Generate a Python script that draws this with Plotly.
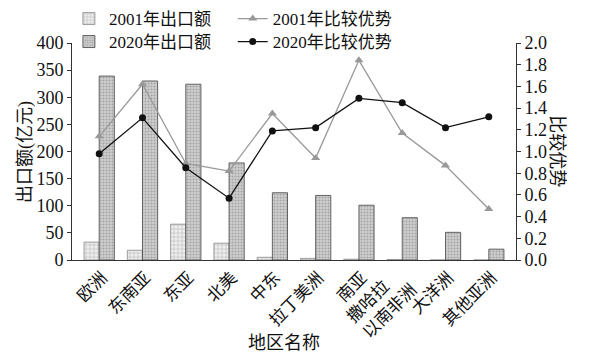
import plotly.graph_objects as go

categories = ["欧洲", "东南亚", "东亚", "北美", "中东", "拉丁美洲", "南亚", "撒哈拉<br>以南非洲", "大洋洲", "其他亚洲"]
export_2001 = [33, 18, 66, 31, 5, 3, 1.5, 1, 0, 0]
export_2020 = [339, 330, 324, 179, 124, 119, 101, 78, 51, 20]
adv_2001 = [1.14, 1.62, 0.89, 0.82, 1.35, 0.94, 1.84, 1.17, 0.87, 0.47]
adv_2020 = [0.98, 1.31, 0.85, 0.57, 1.19, 1.22, 1.49, 1.45, 1.22, 1.32]

FONT = "Liberation Serif, Noto Sans CJK SC"

# two-line category label drawn left-aligned (as in reference); others as axis tick labels
multi = [c for c in categories if "<br>" in c]
ticktext = ["" if "<br>" in c else c for c in categories]

fig = go.Figure()
fig.add_trace(go.Bar(
    x=categories, y=export_2001, name="2001年出口额",
    marker=dict(color="#eeeeee", line=dict(color="#888", width=0.8),
                pattern=dict(shape="+", fgcolor="#999", bgcolor="#eeeeee", size=4, solidity=0.35)),
    legend="legend",
))
fig.add_trace(go.Bar(
    x=categories, y=export_2020, name="2020年出口额",
    marker=dict(color="#c4c4c4", line=dict(color="#444", width=0.8),
                pattern=dict(shape=".", fgcolor="#777", bgcolor="#d0d0d0", size=3, solidity=0.4)),
    legend="legend2",
))
fig.add_trace(go.Scatter(
    x=categories, y=adv_2001, name="2001年比较优势", yaxis="y2",
    mode="lines+markers", line=dict(color="#999", width=1.3),
    marker=dict(symbol="triangle-up", size=8, color="#999"),
    legend="legend3",
))
fig.add_trace(go.Scatter(
    x=categories, y=adv_2020, name="2020年比较优势", yaxis="y2",
    mode="lines+markers", line=dict(color="#111", width=1.3),
    marker=dict(symbol="circle", size=7, color="#111"),
    legend="legend4",
))

leg_common = dict(xanchor="left", yanchor="top", bgcolor="rgba(0,0,0,0)",
                  font=dict(size=17), tracegroupgap=0, itemwidth=30)
ROW1, ROW2 = 1.1935, 1.0876
COL1, COL2 = -0.007, 0.362

annotations = [
    dict(text="地区名称", x=0.477, y=-0.382, xref="paper", yref="paper", showarrow=False,
         xanchor="center", yanchor="middle", font=dict(size=18)),
    dict(text="出口额(亿元)", x=-0.105, y=0.5, xref="paper", yref="paper", showarrow=False,
         textangle=-90, xanchor="center", yanchor="middle", font=dict(size=18)),
    dict(text="比较优势", x=1.093, y=0.5, xref="paper", yref="paper", showarrow=False,
         textangle=90, xanchor="center", yanchor="middle", font=dict(size=18)),
]
for c in multi:
    annotations.append(dict(text=c, x=c, y=0, xref="x", yref="paper", showarrow=False,
                            textangle=-45, align="left", xanchor="right", yanchor="top",
                            xshift=21, yshift=-2, font=dict(size=17)))

fig.update_layout(
    width=593, height=354,
    margin=dict(l=64, r=85, t=35, b=102, autoexpand=False),
    paper_bgcolor="white", plot_bgcolor="white",
    font=dict(family=FONT, size=18, color="#111"),
    bargap=0.3, bargroupgap=0,
    showlegend=True,
    legend=dict(x=COL1, y=ROW1, **leg_common),
    legend2=dict(x=COL1, y=ROW2, **leg_common),
    legend3=dict(x=COL2, y=ROW1, **leg_common),
    legend4=dict(x=COL2, y=ROW2, **leg_common),
    xaxis=dict(showline=True, linecolor="#333", linewidth=1, ticks="", tickangle=-45,
               tickmode="array", tickvals=categories, ticktext=ticktext, ticklabelshift=3,
               showgrid=False, tickfont=dict(size=17), automargin=False),
    yaxis=dict(range=[0, 400], dtick=50, showline=True, linecolor="#333", linewidth=1,
               ticks="outside", ticklen=4, tickcolor="#333", showgrid=False, zeroline=False,
               tickfont=dict(size=18), automargin=False),
    yaxis2=dict(range=[0, 2], dtick=0.2, tickformat=".1f", overlaying="y", side="right",
                showline=True, linecolor="#333", linewidth=1, ticks="outside", ticklen=4,
                tickcolor="#333", showgrid=False, zeroline=False, tickfont=dict(size=18),
                automargin=False),
    annotations=annotations,
)

fig.write_html("out.html")
